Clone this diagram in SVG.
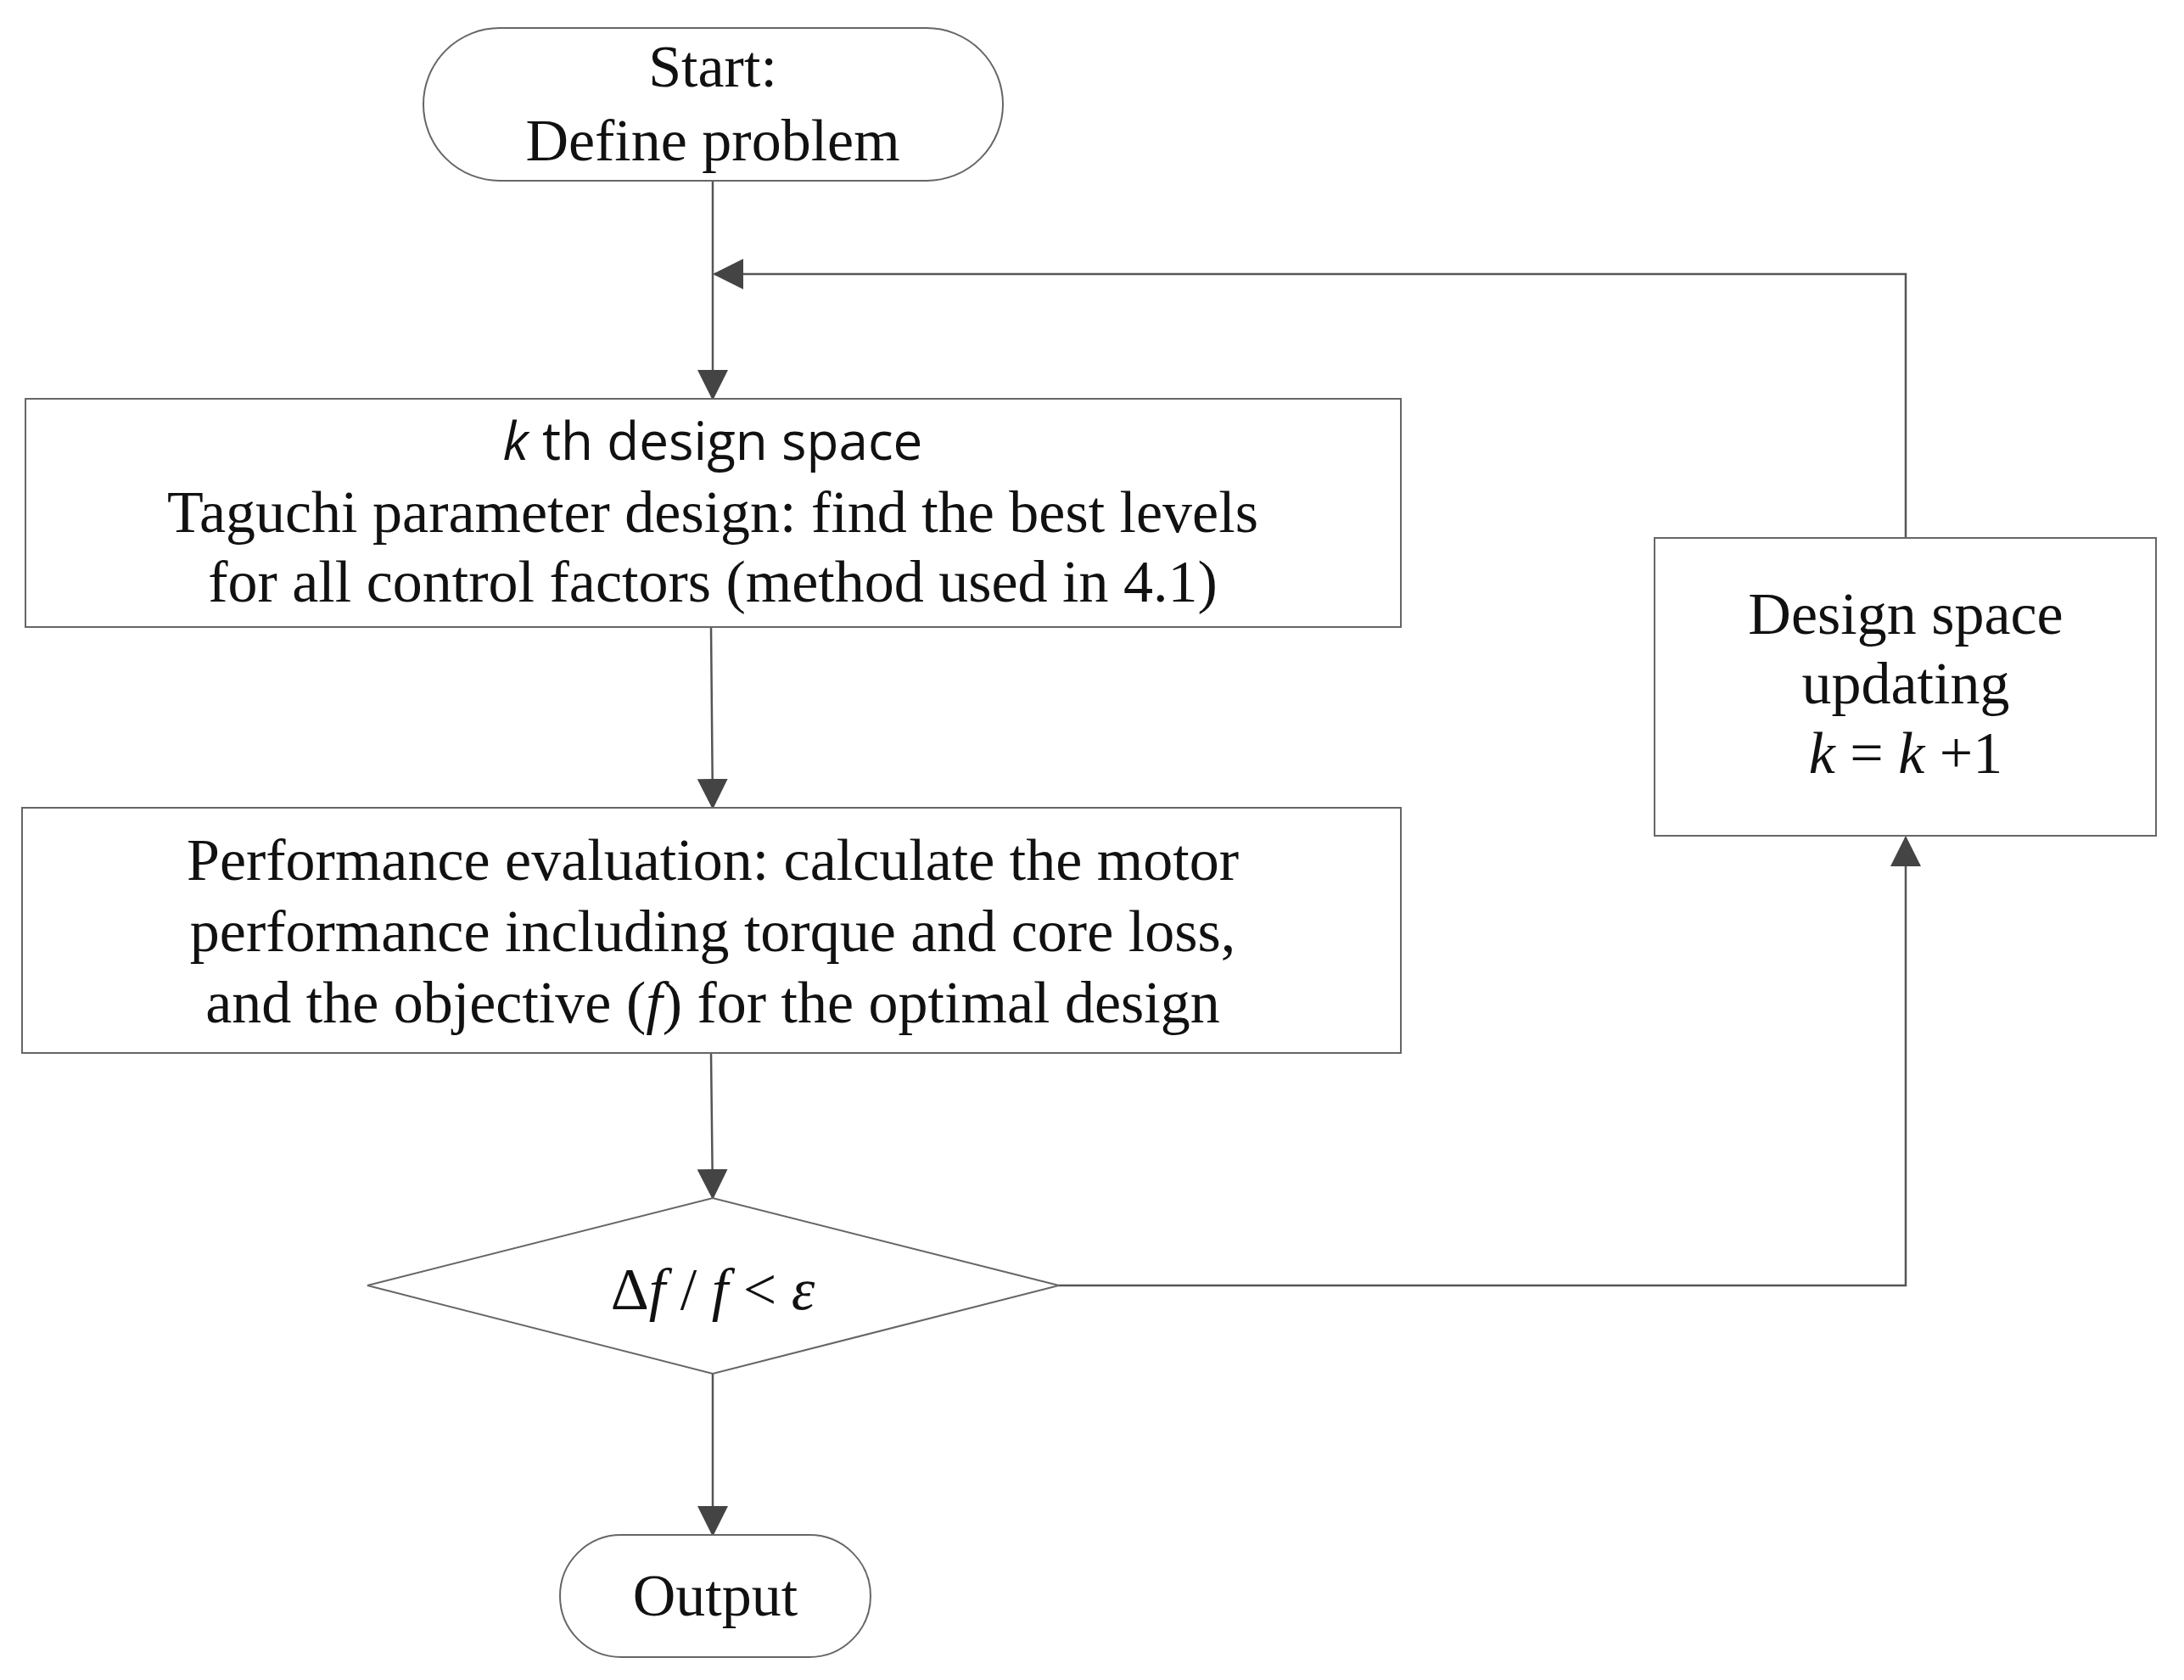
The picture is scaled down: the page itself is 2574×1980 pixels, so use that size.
<svg xmlns="http://www.w3.org/2000/svg" width="2574" height="1980" viewBox="0 0 2574 1980">
<style>
.b{fill:#fff;stroke:#666;stroke-width:2}
.t{font-family:"Liberation Serif","DejaVu Serif",serif;font-size:70px;fill:#111;text-anchor:middle}
.s{font-family:"Open Sans","Liberation Sans",sans-serif;font-size:62px;fill:#111;text-anchor:middle}
.c{fill:none;stroke:#555;stroke-width:2.5}
</style>
<defs>
<marker id="a" markerWidth="36" markerHeight="36" refX="34" refY="18" orient="auto" markerUnits="userSpaceOnUse">
<path d="M0,0 L36,18 L0,36 z" fill="#444"/>
</marker>
</defs>
<rect width="2574" height="1980" fill="#fff"/>
<g id="connectors">
<line class="c" x1="840" y1="213" x2="840" y2="470" marker-end="url(#a)"/>
<line class="c" x1="838" y1="739" x2="840" y2="952" marker-end="url(#a)"/>
<line class="c" x1="838" y1="1241" x2="840" y2="1412" marker-end="url(#a)"/>
<line class="c" x1="840" y1="1619" x2="840" y2="1809" marker-end="url(#a)"/>
<polyline class="c" points="1248,1515 2246,1515 2246,987" marker-end="url(#a)"/>
<polyline class="c" points="2246,634 2246,323 842,323" marker-end="url(#a)"/>
</g>
<g id="start">
<rect class="b" x="499" y="33" width="683" height="180" rx="90"/>
<text class="t" x="840" y="102">Start:</text>
<text class="t" x="840" y="189">Define problem</text>
</g>
<g id="taguchi">
<rect class="b" x="30" y="470" width="1621" height="269"/>
<text class="s" x="840" y="542"><tspan font-style="italic">k</tspan> th design space</text>
<text class="t" x="840" y="627">Taguchi parameter design: find the best levels</text>
<text class="t" x="840" y="709">for all control factors (method used in 4.1)</text>
</g>
<g id="evaluation">
<rect class="b" x="26" y="952" width="1625" height="289"/>
<text class="t" x="840" y="1037">Performance evaluation: calculate the motor</text>
<text class="t" x="840" y="1121">performance including torque and core loss,</text>
<text class="t" x="840" y="1205">and the objective (<tspan font-style="italic">f</tspan>) for the optimal design</text>
</g>
<g id="decision">
<polygon class="b" points="433,1515 840,1412 1248,1515 840,1619"/>
<text class="t" x="840" y="1543">Δ<tspan font-style="italic">f</tspan> / <tspan font-style="italic">f</tspan>  &lt; <tspan font-style="italic">ε</tspan></text>
</g>
<g id="output">
<rect class="b" x="660" y="1809" width="366" height="144" rx="72"/>
<text class="t" x="843" y="1904">Output</text>
</g>
<g id="update">
<rect class="b" x="1950" y="634" width="591" height="351"/>
<text class="t" x="2246" y="747">Design space</text>
<text class="t" x="2246" y="829">updating</text>
<text class="t" x="2246" y="911"><tspan font-style="italic">k</tspan> = <tspan font-style="italic">k</tspan> +1</text>
</g>
</svg>
